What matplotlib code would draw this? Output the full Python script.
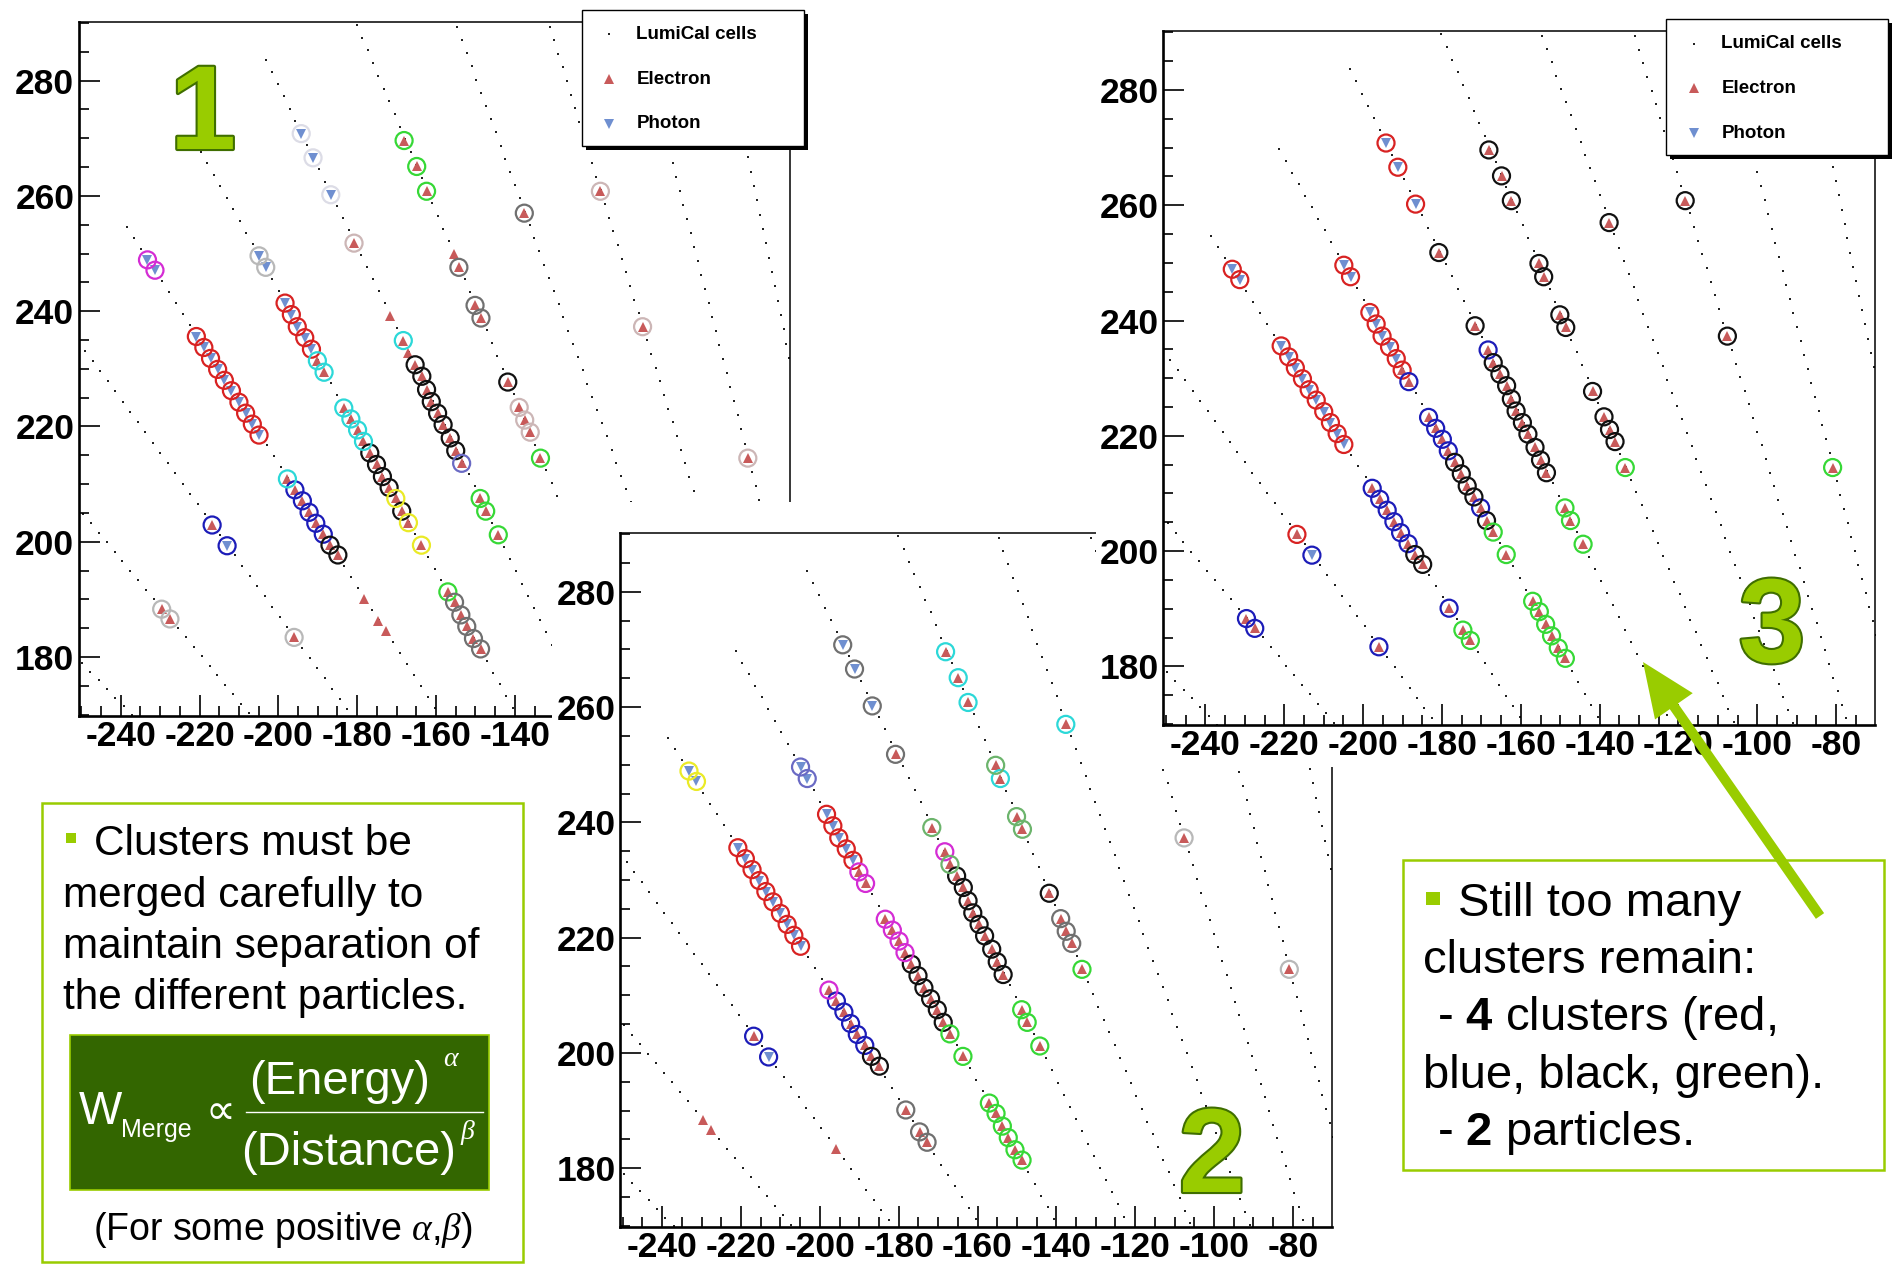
import numpy as np
import matplotlib.pyplot as plt
from matplotlib.patches import Rectangle, FancyArrow
from matplotlib.lines import Line2D
from matplotlib.ticker import MultipleLocator, FuncFormatter
from matplotlib.transforms import Affine2D
import matplotlib.patheffects as pe

plt.rcParams['font.family'] = ['Liberation Sans', 'DejaVu Sans']
plt.rcParams['axes.unicode_minus'] = False
plt.rcParams['mathtext.fontset'] = 'custom'
plt.rcParams['mathtext.rm'] = 'Liberation Sans'
plt.rcParams['mathtext.bf'] = 'Liberation Sans:bold'
plt.rcParams['mathtext.it'] = 'Liberation Serif:italic'

W, H, DPI = 1894, 1264, 100

# LumiCal geometry: 96 phi sectors, radial pads of 2.6 mm
n_sectors = 96
pad_pitch = 2.6
pad_offset = 0.5
pad_rings = np.arange(60, 135)
sector_ids = np.arange(24, 42)

# hit cells of the event (x, y) and the particle that made them: e = electron, p = photon
hit_x = [
    -229.6, -227.5, -216.8, -213.0, -196.0,
    -233.2, -231.3,
    -220.8, -218.9, -217.2, -215.4, -213.7, -211.9, -210.0, -208.3, -206.6, -204.9,
    -197.7, -195.8, -193.9, -192.2, -190.5, -188.6, -186.9, -184.9,
    -178.2, -174.7, -172.8,
    -204.9, -203.2,
    -198.3, -196.7, -195.2, -193.3, -191.6, -190.1, -188.4,
    -183.4, -181.6, -179.9, -178.4, -176.8, -175.1, -173.6, -171.9, -170.2, -168.7, -167.0, -163.7,
    -157.0, -155.3, -153.7, -152.2, -150.5, -148.7,
    -194.2, -191.2, -186.7,
    -180.8, -171.6,
    -168.3, -167.0, -165.3, -163.6, -162.4, -161.2, -159.6, -158.2, -156.4, -155.0, -153.5,
    -148.8, -147.4, -144.2,
    -168.1, -164.9, -162.4,
    -155.4, -154.2, -150.1, -148.6,
    -141.8, -138.9, -137.5, -136.1, -133.5,
    -137.6, -118.3, -107.6, -80.9,
]
hit_y = [
    188.3, 186.6, 202.9, 199.3, 183.4,
    248.9, 247.1,
    235.6, 233.7, 231.8, 229.9, 228.0, 226.2, 224.2, 222.3, 220.4, 218.5,
    210.9, 209.0, 207.1, 205.1, 203.2, 201.3, 199.4, 197.7,
    190.1, 186.3, 184.5,
    249.6, 247.6,
    241.4, 239.4, 237.3, 235.4, 233.4, 231.4, 229.4,
    223.2, 221.3, 219.4, 217.4, 215.4, 213.4, 211.3, 209.4, 207.5, 205.3, 203.3, 199.4,
    191.3, 189.5, 187.3, 185.3, 183.2, 181.4,
    270.8, 266.6, 260.2,
    251.8, 239.1,
    234.9, 232.7, 230.7, 228.7, 226.4, 224.3, 222.3, 220.3, 218.0, 215.8, 213.6,
    207.5, 205.3, 201.2,
    269.6, 265.1, 260.8,
    249.9, 247.6, 241.0, 238.8,
    227.7, 223.3, 221.1, 219.0, 214.5,
    257.0, 260.8, 237.3, 214.5,
]
hit_kind = ("eeepe" + "pp" + "p" * 10 + "e" * 8 + "eee" + "pp" + "pppppee"
            + "e" * 12 + "e" * 6 + "ppp" + "e" * 32)

# cluster of every hit after each merging step ('-' = no cluster)
clusters_step1 = "".join([
    "LLbbL", "mm", "r" * 10, "cbbbbbkk", "---", "LL", "rrrrrcc",
    "cccckkkkykyy", "gGGGGG", "WWW", "P-", "c-kkkkkkkkS", "ggg", "ggg",
    "-GGG", "kPPPg", "GPPP",
])
clusters_step2 = "".join([
    "--bb-", "yy", "r" * 10, "mbbbbbkk", "GGG", "SS", "rrrrrmm",
    "mmmmkkkkkkgg", "gggggg", "GGG", "GM", "mMkkkkkkkkk", "ggg", "ccc",
    "McMM", "kGGGg", "cLLL",
])
clusters_step3 = "".join([
    "bbrbb", "rr", "r" * 10, "bbbbbbkk", "bgg", "rr", "rrrrrrb",
    "bbbbkkkkbkgg", "gggggg", "rrr", "kk", "bkkkkkkkkkk", "ggg", "kkk",
    "kkkk", "kkkkg", "kkkg",
])

legend_labels = ["LumiCal cells", "Electron", "Photon"]

ring_colors = {
    'r': '#d82222', 'b': '#1c1cb8', 'k': '#111111', 'g': '#36d836',
    'c': '#2cd8d8', 'm': '#d42cd4', 'y': '#eaea26', 'G': '#707070',
    'L': '#b8b8b8', 'P': '#ccb6b6', 'W': '#dcdce6', 'S': '#6a6ac4',
    'M': '#6cb46c',
}
GREEN = '#99cc00'
E_COLOR = '#c85a5a'
P_COLOR = '#6f8fd0'

hx = np.array(hit_x)
hy = np.array(hit_y)
kind = np.array(list(hit_kind))

phi = np.deg2rad((sector_ids + 0.5) * 360.0 / n_sectors)
rad = pad_pitch * pad_rings + pad_offset
R, PHI = np.meshgrid(rad, phi)
cell_x = (R * np.cos(PHI)).ravel()
cell_y = (R * np.sin(PHI)).ravel()

fig = plt.figure(figsize=(W / DPI, H / DPI), dpi=DPI)
# pixel coordinates, origin at the top-left corner
PX = Affine2D().scale(1 / DPI, -1 / DPI).translate(0, H / DPI) + fig.dpi_scale_trans


def frac_rect(left, top, w, h):
    return [left / W, 1 - (top + h) / H, w / W, h / H]


def draw_legend(ax, left, top):
    bw, bh = 222, 136
    ax.add_artist(Rectangle((left + 4, top + 4), bw, bh, transform=PX, facecolor='black',
                            edgecolor='none', clip_on=False, zorder=6))
    ax.add_artist(Rectangle((left, top), bw, bh, transform=PX, facecolor='white',
                            edgecolor='black', lw=1.0, clip_on=False, zorder=7))
    styles = [dict(marker='s', ms=2.0, color='#222222', mew=0),
              dict(marker='^', ms=7.5, color=E_COLOR, mew=0),
              dict(marker='v', ms=7.5, color=P_COLOR, mew=0)]
    for i, (label, st) in enumerate(zip(legend_labels, styles)):
        yy = top + 24.5 + 44.7 * i
        ax.add_artist(Line2D([left + 27.5], [yy], transform=PX, ls='none',
                             clip_on=False, zorder=8, **st))
        ax.text(left + 55, yy, label, transform=PX, fontsize=13.5, fontweight='bold',
                va='center', ha='left', zorder=8, clip_on=False)


def draw_panel(left, top, z, clusters, xlabel_max=None, legend=True):
    ax = fig.add_axes(frac_rect(left, top, 711.5, 694))
    ax.set_zorder(z)
    ax.set_xlim(-250.7, -70.2)
    ax.set_ylim(169.8, 290.2)
    ax.plot(cell_x, cell_y, ls='none', marker='s', ms=1.8, mew=0, color='#222222', zorder=1)
    codes = np.array(list(clusters))
    for code, col in ring_colors.items():
        sel = codes == code
        if sel.any():
            ax.scatter(hx[sel], hy[sel], s=150, facecolors='none', edgecolors=col,
                       linewidths=1.6, zorder=3)
    e = kind == 'e'
    p = kind == 'p'
    ax.plot(hx[e], hy[e], ls='none', marker='^', ms=7, mew=0, color=E_COLOR, zorder=2)
    ax.plot(hx[p], hy[p], ls='none', marker='v', ms=7, mew=0, color=P_COLOR, zorder=2)

    ax.xaxis.set_major_locator(MultipleLocator(20))
    ax.xaxis.set_minor_locator(MultipleLocator(5))
    ax.yaxis.set_major_locator(MultipleLocator(20))
    ax.yaxis.set_minor_locator(MultipleLocator(5))
    if xlabel_max is not None:
        # the right part of this axis sits under the next panel
        ax.xaxis.set_major_formatter(FuncFormatter(
            lambda v, pos: '' if v > xlabel_max else f'{v:.0f}'))
    ax.tick_params(which='both', direction='in', top=False, right=False, width=1.2)
    ax.tick_params(which='major', length=15, labelsize=25.5)
    ax.tick_params(which='minor', length=7.5)
    ax.tick_params(axis='x', pad=3)
    ax.tick_params(axis='y', pad=3)
    plt.setp(ax.get_xticklabels() + ax.get_yticklabels(), fontweight='bold')
    for side in ('left', 'bottom'):
        ax.spines[side].set_linewidth(1.9)
    for side in ('top', 'right'):
        ax.spines[side].set_linewidth(1.1)
    if legend:
        draw_legend(ax, left + 503, top - 12)
    return ax


# white backing of the stacked panels
fig.add_artist(Rectangle((552, 502), 790, 762, transform=PX, facecolor='white',
                         edgecolor='none', zorder=1.9))
fig.add_artist(Rectangle((1096, 0), 798, 767, transform=PX, facecolor='white',
                         edgecolor='none', zorder=2.9))

draw_panel(78.5, 21.8, 1, clusters_step1, xlabel_max=-140)
draw_panel(620, 533, 2, clusters_step2, legend=False)
draw_panel(1163.3, 31.2, 3, clusters_step3)

# step numbers
outline = [pe.Stroke(linewidth=3, foreground='#3f6e00'), pe.Normal()]
for label, (x, y), z in [("1", (203, 149), 1.5), ("2", (1212, 1192), 2.5),
                         ("3", (1772, 662), 3.5)]:
    fig.text(x, y, label, transform=PX, fontsize=86, fontweight='bold', color=GREEN,
             ha='center', va='baseline', zorder=z, path_effects=outline)


def txt(x, y, s, size, **kw):
    kw.setdefault('va', 'baseline')
    kw.setdefault('ha', 'left')
    kw.setdefault('zorder', 10)
    return fig.text(x, y, s, transform=PX, fontsize=size, **kw)


# left note
fig.add_artist(Rectangle((42.3, 803.3), 480.7, 459, transform=PX, facecolor='white',
                         edgecolor=GREEN, lw=1.8, zorder=5))
fig.add_artist(Rectangle((66.4, 832.5), 10, 10, transform=PX, facecolor=GREEN,
                         edgecolor='none', zorder=10))
txt(94.2, 855, "Clusters must be", 30.5)
txt(62.8, 906.5, "merged carefully to", 30.5)
txt(62.8, 958, "maintain separation of", 30.5)
txt(62.8, 1009, "the different particles.", 30.5)

fig.add_artist(Rectangle((70, 1035), 419, 155, transform=PX, facecolor='#336600',
                         edgecolor=GREEN, lw=1.2, zorder=6))
txt(78.6, 1124, "W", 33, color='white')
txt(121, 1137, "Merge", 18, color='white')
txt(220, 1124, "\u221d", 30, color='white', ha='center', family=['DejaVu Sans'])
fig.add_artist(Line2D([246, 483], [1112, 1112], transform=PX, color='white', lw=1.0,
                      zorder=10))
txt(340, 1094, "(Energy)", 34, color='white', ha='center')
txt(450, 1066, "\u03b1", 20, color='white', ha='center', style='italic',
    family=['Liberation Serif'])
txt(349, 1165, "(Distance)", 34, color='white', ha='center')
txt(467, 1139, "\u03b2", 20, color='white', ha='center', style='italic',
    family=['Liberation Serif'])
txt(283, 1240, r"(For some positive $\alpha$,$\beta$)", 27, ha='center')

# right note
fig.add_artist(Rectangle((1402.7, 860), 481, 310, transform=PX, facecolor='white',
                         edgecolor=GREEN, lw=1.8, zorder=5))
fig.add_artist(Rectangle((1426, 892), 13.5, 13, transform=PX, facecolor=GREEN,
                         edgecolor='none', zorder=10))
txt(1458.3, 916, "Still too many", 34)
txt(1423.3, 973.3, "clusters remain:", 34)
txt(1436.7, 1030, r"- $\mathbf{4}$ clusters (red,", 34)
txt(1423.3, 1088.3, "blue, black, green).", 34)
txt(1436.7, 1145, r"- $\mathbf{2}$ particles.", 34)

# arrow pointing into the last panel
fig.add_artist(FancyArrow(1820, 916, 1643 - 1820, 662 - 916, width=10, head_width=46,
                          head_length=54, length_includes_head=True, transform=PX,
                          facecolor=GREEN, edgecolor='none', zorder=12))

fig.savefig('out.png', dpi=DPI)
